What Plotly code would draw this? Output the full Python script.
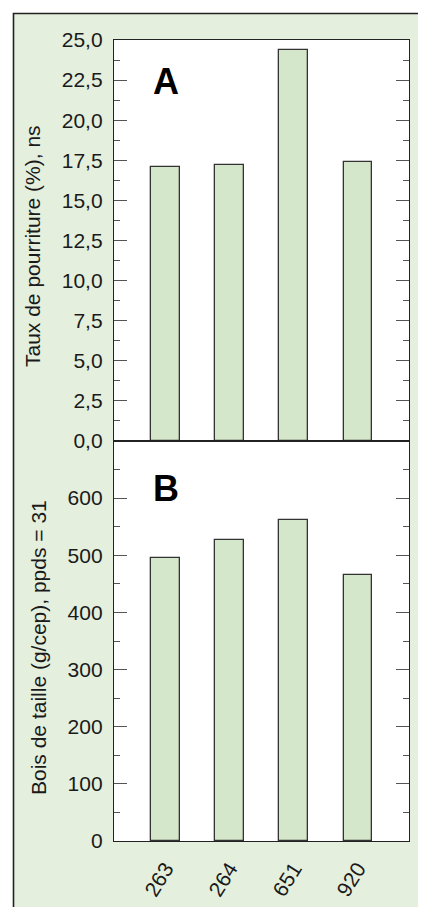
import plotly.graph_objects as go
from plotly.subplots import make_subplots

categories = ["263", "264", "651", "920"]
pourriture = [17.1, 17.2, 24.4, 17.4]
bois = [495, 527, 561, 465]
ticks_a = [0, 2.5, 5, 7.5, 10, 12.5, 15, 17.5, 20, 22.5, 25]
ticks_b = [0, 100, 200, 300, 400, 500, 600]

BG = "#E4EFDD"
BAR = "#D5E7CB"
EDGE = "#333333"
TXT = "#1a1a1a"
FONT = "Liberation Sans, Arial, sans-serif"

OFF = 8  # page body margin
W, H = 426 - OFF, 907 - OFF
L, R, T, B = 114 - OFF, 17, 40 - OFF, 66
PW, PH = W - L - R, H - T - B


def px(p):
    return (p - OFF - L) / PW


def py(p):
    return (H - B - (p - OFF)) / PH


fig = make_subplots(rows=2, cols=1, shared_xaxes=False, vertical_spacing=0)

fig.add_trace(go.Bar(x=categories, y=pourriture, width=0.445,
                     marker=dict(color=BAR, line=dict(color=EDGE, width=1.3)),
                     showlegend=False), row=1, col=1)
fig.add_trace(go.Bar(x=categories, y=bois, width=0.445,
                     marker=dict(color=BAR, line=dict(color=EDGE, width=1.3)),
                     showlegend=False), row=2, col=1)

split = py(441)

axis_common = dict(showline=True, linecolor="#222222", linewidth=1.3, mirror="ticks",
                   showgrid=False, zeroline=False)

fig.update_layout(
    width=W, height=H,
    margin=dict(l=L, r=R, t=T, b=B, autoexpand=False),
    paper_bgcolor=BG, plot_bgcolor="white",
    separators=", ",
    font=dict(family=FONT, size=21, color=TXT),
    bargap=0,
    xaxis=dict(domain=[0, 1], anchor="y", range=[-0.805, 3.80], type="category",
               showticklabels=False, ticks="", showline=True, linecolor="#222222",
               linewidth=1.3, mirror=True, showgrid=False, zeroline=False),
    yaxis=dict(domain=[split, 1], anchor="x", range=[0, 25], tickvals=ticks_a,
               tickformat=".1f", ticks="inside", ticklen=13, tickcolor="#555555",
               tickwidth=1.2, ticklabelstandoff=6,
               minor=dict(dtick=1.25, tick0=0, ticks="inside", ticklen=6,
                          tickcolor="#555555", tickwidth=1.2),
               **axis_common),
    xaxis2=dict(domain=[0, 1], anchor="y2", range=[-0.805, 3.80], type="category",
                ticks="", tickangle=-58, showline=True, linecolor="#222222",
                linewidth=1.3, mirror=True, showgrid=False, zeroline=False,
                tickfont=dict(size=21), ticklabelstandoff=6),
    yaxis2=dict(domain=[0, split], anchor="x2", range=[0, 700], tickvals=ticks_b,
                ticks="inside", ticklen=13, tickcolor="#555555", tickwidth=1.2,
                ticklabelstandoff=6,
                minor=dict(dtick=50, tick0=0, ticks="inside", ticklen=6,
                           tickcolor="#555555", tickwidth=1.2),
                **axis_common),
)

# white area outside the outer frame (top strip and left strip)
fig.add_shape(type="rect", xref="paper", yref="paper", layer="below",
              x0=px(-20), x1=px(460), y0=py(13.5), y1=py(-20),
              fillcolor="white", line=dict(width=0))
fig.add_shape(type="rect", xref="paper", yref="paper", layer="below",
              x0=px(-20), x1=px(13.5), y0=py(930), y1=py(-20),
              fillcolor="white", line=dict(width=0))
# outer frame line
fig.add_shape(type="rect", xref="paper", yref="paper", layer="above",
              x0=px(13.5), x1=px(460), y0=py(940), y1=py(13.5),
              fillcolor="rgba(0,0,0,0)", line=dict(color="#222222", width=1.6))

# panel letters
fig.add_annotation(text="<b>A</b>", xref="x", yref="y", x=0, y=22.4,
                   showarrow=False, font=dict(size=36, color="black", family=FONT))
fig.add_annotation(text="<b>B</b>", xref="x2", yref="y2", x=0, y=617,
                   showarrow=False, font=dict(size=36, color="black", family=FONT))

# axis titles
fig.add_annotation(text="Taux de pourriture (%), ns", textangle=-90,
                   xref="paper", yref="paper", x=px(33), y=py(246),
                   xanchor="center", yanchor="middle", showarrow=False,
                   font=dict(size=21, color=TXT, family=FONT))
fig.add_annotation(text="Bois de taille (g/cep), ppds = 31", textangle=-90,
                   xref="paper", yref="paper", x=px(38), y=py(648),
                   xanchor="center", yanchor="middle", showarrow=False,
                   font=dict(size=21, color=TXT, family=FONT))

fig.write_html("out.html")
